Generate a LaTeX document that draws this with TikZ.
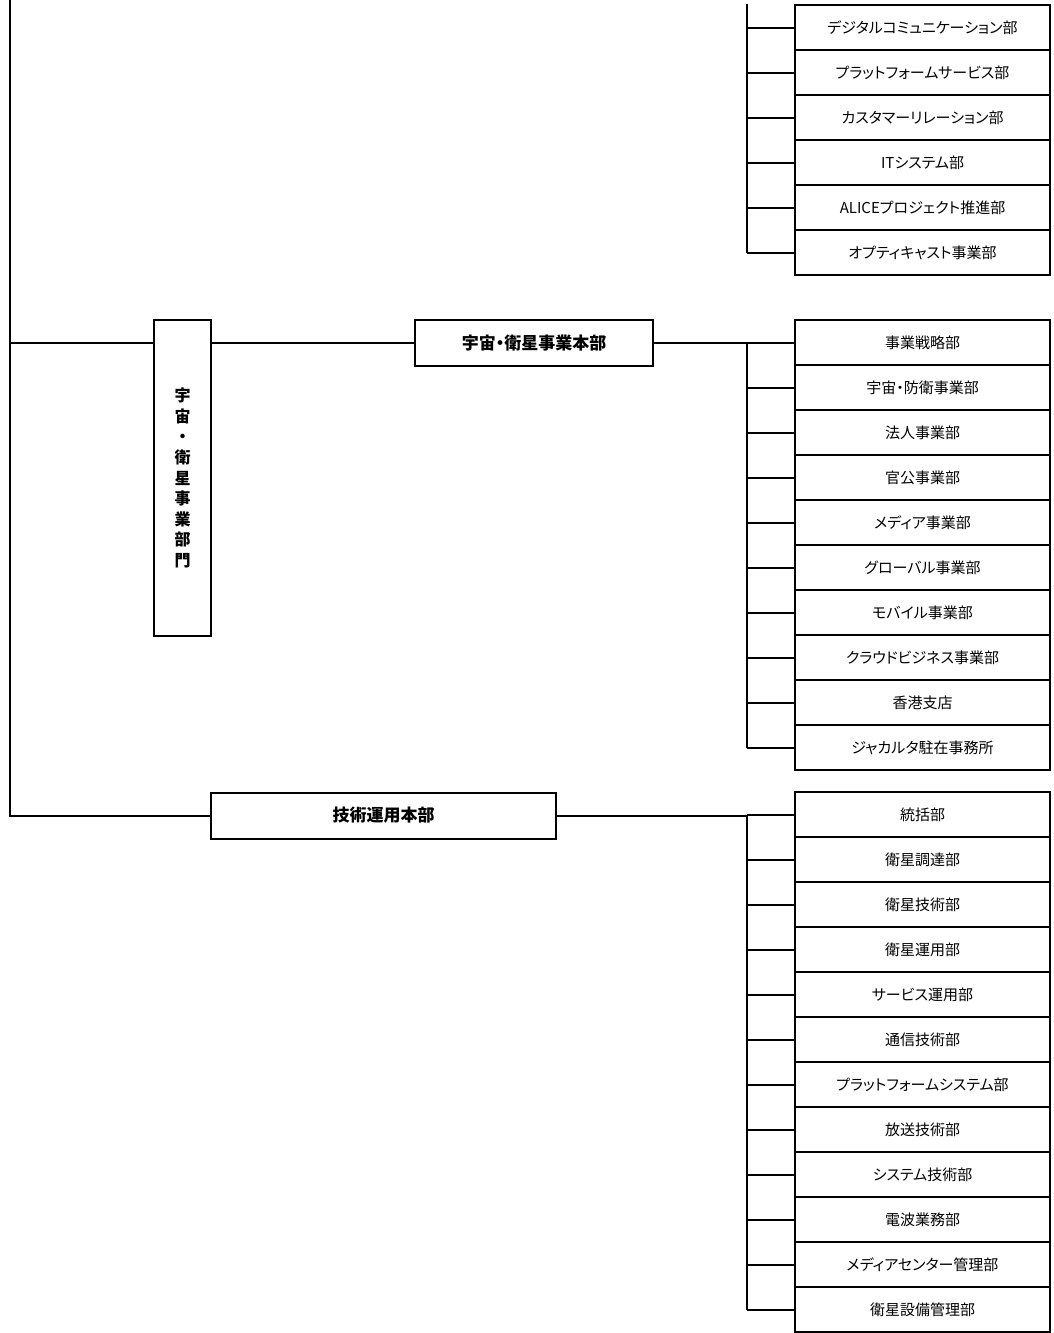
\documentclass[tikz,border=0pt]{standalone}
\usepackage{fontspec}
\newfontfamily\jpfont[RawFeature=+palt]{Noto Sans CJK JP}

\tikzset{
  dept/.style={draw, line width=2pt, minimum width=255pt, minimum height=45pt,
    inner sep=0pt, font=\jpfont\fontsize{15}{17}\selectfont},
  hqbox/.style={draw, line width=2pt, minimum height=46pt, inner sep=0pt,
    font=\jpfont\bfseries\fontsize{17}{19}\selectfont},
  link/.style={line width=2pt}
}

\begin{document}
\begin{tikzpicture}[x=1pt,y=-1pt]
\useasboundingbox (0,0) rectangle (1053,1333);

% spines
\coordinate (top) at (10,0);
\coordinate (tspine) at (747,4);

% top group
\foreach \lbl [count=\i] in {デジタルコミュニケーション部,プラットフォームサービス部,
    カスタマーリレーション部,ITシステム部,ALICEプロジェクト推進部,オプティキャスト事業部}{
  \node[dept] (t\i) at (922.5,{27.5+45*(\i-1)}) {\lbl};
  \draw[link] (t\i.west) -- (t\i.west -| tspine);
}
\draw[link] (tspine) -- (t6.west -| tspine);

% division
\node[draw, line width=2pt, minimum width=57pt, minimum height=316pt, inner sep=0pt,
  align=center, font=\jpfont\bfseries\fontsize{16}{20.6}\selectfont]
  (div) at (182.5,478) {宇\\宙\\・\\衛\\星\\事\\業\\部\\門};
\node[hqbox, minimum width=238pt] (hq) at (534,343) {宇宙・衛星事業本部};

% middle group
\foreach \lbl [count=\i] in {事業戦略部,宇宙・防衛事業部,法人事業部,官公事業部,メディア事業部,
    グローバル事業部,モバイル事業部,クラウドビジネス事業部,香港支店,ジャカルタ駐在事務所}{
  \node[dept] (m\i) at (922.5,{342.5+45*(\i-1)}) {\lbl};
  \draw[link] (m\i.west) -- (m\i.west -| tspine);
}
\draw[link] (m1.west -| tspine) -- (m10.west -| tspine);

% bottom group
\node[hqbox, minimum width=345pt] (gi) at (383.5,815.5) {技術運用本部};
\foreach \lbl [count=\i] in {統括部,衛星調達部,衛星技術部,衛星運用部,サービス運用部,通信技術部,
    プラットフォームシステム部,放送技術部,システム技術部,電波業務部,メディアセンター管理部,衛星設備管理部}{
  \node[dept] (b\i) at (922.5,{814.5+45*(\i-1)}) {\lbl};
  \draw[link] (b\i.west) -- (b\i.west -| tspine);
}
\draw[link] (b1.west -| tspine) -- (b12.west -| tspine);

% main links
\draw[link] (top) |- (gi.west);
\draw[link] (top |- hq.west) -- (hq.west -| div.west);
\draw[link] (hq.west -| div.east) -- (hq.west);
\draw[link] (hq.east) -- (hq.east -| tspine);
\draw[link] (gi.east) -- (gi.east -| tspine);
\end{tikzpicture}
\end{document}
